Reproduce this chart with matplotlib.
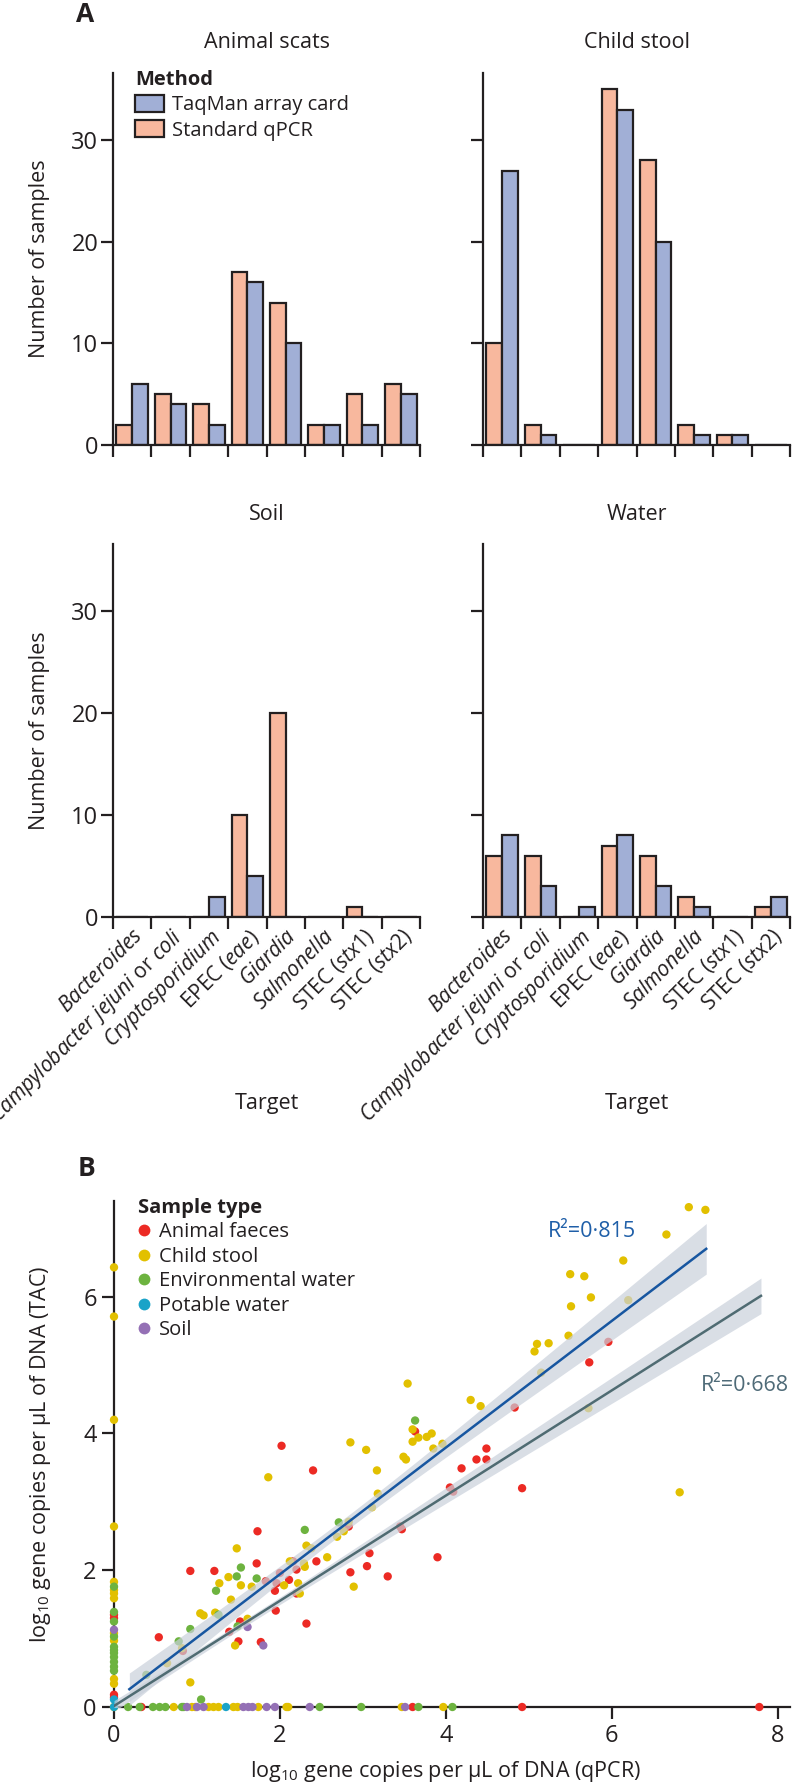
import numpy as np
import matplotlib
matplotlib.use('Agg')
from matplotlib import pyplot as plt
from matplotlib.patches import Patch
from matplotlib.lines import Line2D

plt.rcParams['font.family'] = ['Open Sans', 'DejaVu Sans']
plt.rcParams['mathtext.fontset'] = 'custom'
plt.rcParams['mathtext.rm'] = 'Open Sans'
plt.rcParams['mathtext.it'] = 'Open Sans:italic'
plt.rcParams['mathtext.bf'] = 'Open Sans:bold'

ink = '#231f20'
c_taq = '#a1afd6'
c_qpcr = '#f8b89e'

# ---- panel A: number of positive samples per target ----
targets = [r'$\mathit{Bacteroides}$',
           r'$\mathit{Campylobacter\ jejuni}$ or $\mathit{coli}$',
           r'$\mathit{Cryptosporidium}$',
           r'EPEC ($\mathit{eae}$)',
           r'$\mathit{Giardia}$',
           r'$\mathit{Salmonella}$',
           r'STEC ($\mathit{stx1}$)',
           r'STEC ($\mathit{stx2}$)']

scats_taqman = [6, 4, 2, 16, 10, 2, 2, 5]
scats_qpcr = [2, 5, 4, 17, 14, 2, 5, 6]
stool_taqman = [27, 1, 0, 33, 20, 1, 1, 0]
stool_qpcr = [10, 2, 0, 35, 28, 2, 1, 0]
soil_taqman = [0, 0, 2, 4, 0, 0, 0, 0]
soil_qpcr = [0, 0, 0, 10, 20, 0, 1, 0]
water_taqman = [8, 3, 1, 8, 3, 1, 0, 2]
water_qpcr = [6, 6, 0, 7, 6, 2, 0, 1]

# ---- panel B: log10 gene copies, qPCR (x) vs TAC (y) ----
animal_x = [2.02, 2.40, 1.73, 2.83, 3.45, 3.47, 2.44, 3.08, 3.05, 2.85, 3.30, 0.92, 1.21,
            1.72, 1.83, 1.96, 2.00, 2.11, 2.16, 2.20, 1.94, 2.20, 1.95, 1.52, 1.39, 2.32,
            0.54, 0.83, 1.50, 1.77, 5.96, 5.73, 4.83, 3.63, 4.49, 4.37, 4.49, 4.19, 4.05,
            4.09, 4.92, 3.90,
            0, 0, 0, 0, 0.33, 3.60, 4.92, 7.78]
animal_y = [3.82, 3.46, 2.57, 2.64, 2.64, 2.60, 2.13, 2.25, 2.06, 1.97, 1.91, 1.99, 1.99,
            2.10, 1.84, 1.81, 1.96, 1.86, 2.13, 2.01, 1.70, 1.66, 1.41, 1.25, 1.10, 1.22,
            1.02, 0.82, 0.96, 0.95, 5.34, 5.04, 4.38, 4.03, 3.78, 3.62, 3.62, 3.49, 3.21,
            3.15, 3.20, 2.19,
            1.35, 1.30, 0.18, 0.14, 0, 0, 0, 0]

stool_x = [1.86, 2.85, 3.04, 3.17, 3.18, 3.11, 2.83, 2.69, 2.77, 1.48, 2.32, 2.38, 2.57,
           2.89, 1.38, 1.27, 1.53, 1.66, 2.12, 2.29, 2.30, 2.05, 2.22, 2.24, 1.41, 1.04,
           1.08, 1.22, 1.61, 0.82, 1.46, 0.64, 0.92,
           6.93, 7.13, 6.66, 6.14, 5.50, 5.67, 5.75, 5.51, 6.20, 5.48, 5.10, 5.24, 5.07,
           5.15, 3.54, 4.30, 4.42, 5.72, 3.60, 3.67, 3.60, 3.77, 3.83, 3.85, 3.96, 3.49,
           3.52, 6.82,
           0, 0, 0, 0, 0, 0, 0, 0, 0, 0, 0, 0, 0,
           0.72, 0.94, 0.98, 1.14, 1.20, 1.26, 1.44, 1.49, 1.74, 2.08, 2.10, 3.47, 3.97]
stool_y = [3.36, 3.87, 3.76, 3.46, 3.12, 2.92, 2.71, 2.49, 2.57, 2.32, 2.36, 2.32, 2.19,
           1.76, 1.90, 1.81, 1.78, 1.76, 2.13, 2.10, 2.05, 1.78, 1.81, 1.66, 1.57, 1.37,
           1.34, 1.38, 1.29, 0.86, 0.90, 0.64, 0.36,
           7.31, 7.27, 6.91, 6.53, 6.33, 6.30, 5.99, 5.86, 5.95, 5.43, 5.31, 5.32, 5.20,
           4.89, 4.73, 4.49, 4.40, 4.37, 4.06, 3.94, 3.88, 3.95, 4.00, 3.78, 3.85, 3.66,
           3.62, 3.14,
           6.43, 5.71, 4.20, 2.64, 1.83, 1.71, 1.66, 1.59, 1.08, 0.97, 0.41, 0.34, 0,
           0, 0, 0, 0, 0, 0, 0, 0, 0, 0, 0, 0, 0]

envwater_x = [2.30, 2.71, 1.53, 1.48, 1.72, 1.23, 1.26, 0.92, 1.49, 0.78, 0.39, 1.05, 3.63,
              0, 0, 0, 0, 0, 0, 0, 0, 0, 0, 0,
              0.17, 0.31, 0.47, 0.55, 0.62, 0.82, 0.84, 2.48, 2.98, 3.67, 4.08]
envwater_y = [2.59, 2.70, 2.04, 1.91, 1.88, 1.70, 1.35, 1.14, 1.18, 0.96, 0.47, 0.11, 4.19,
              1.76, 1.39, 1.25, 1.03, 0.88, 0.83, 0.79, 0.73, 0.66, 0.59, 0.53,
              0, 0, 0, 0, 0, 0, 0, 0, 0, 0, 0]

potable_x = [0, 0, 1.35]
potable_y = [0.11, 0, 0]

soil_x = [1.61, 1.80, 0, 0.88, 1.00, 1.08, 1.56, 1.62, 1.67, 1.84, 1.94, 2.36, 3.51]
soil_y = [1.17, 0.90, 1.13, 0, 0, 0, 0, 0, 0, 0, 0, 0, 0]

# fitted regression lines (intercept, slope, x range) and CI shape
fit_pos = dict(icpt=0.089, slope=0.926, x0=0.185, x1=7.14, xm=2.8, se0=0.10, k=0.082)
fit_all = dict(icpt=0.015, slope=0.769, x0=0.0, x1=7.80, xm=1.5, se0=0.05, k=0.0405)
r2_pos = 'R²=0·815'
r2_all = 'R²=0·668'

W, H = 792, 1785
fig = plt.figure(figsize=(W / 100, H / 100), dpi=100)


def px_axes(l, t, r, b):
    return fig.add_axes([l / W, 1 - b / H, (r - l) / W, (b - t) / H])


def style(ax):
    for s in ['top', 'right']:
        ax.spines[s].set_visible(False)
    for s in ['left', 'bottom']:
        ax.spines[s].set_linewidth(1.6)
        ax.spines[s].set_color(ink)
    ax.tick_params(which='major', direction='out', length=8.5, width=1.6, color=ink,
                   labelcolor=ink, labelsize=17, pad=2)


panels = [(113, 73, 420, 445, 'Animal scats', scats_taqman, scats_qpcr),
          (483, 73, 790, 445, 'Child stool', stool_taqman, stool_qpcr),
          (113, 544, 420, 917, 'Soil', soil_taqman, soil_qpcr),
          (483, 544, 790, 917, 'Water', water_taqman, water_qpcr)]

edges = np.arange(len(targets) + 1)
centres = np.arange(len(targets)) + 0.5
bw = 0.41
axA = []
for i, (l, t, r, b, title, taq, qp) in enumerate(panels):
    ax = px_axes(l, t, r, b)
    style(ax)
    ax.bar(centres - bw / 2, qp, width=bw, color=c_qpcr, edgecolor=ink, linewidth=1.6)
    ax.bar(centres + bw / 2, taq, width=bw, color=c_taq, edgecolor=ink, linewidth=1.6)
    ax.set_xlim(0, len(targets))
    ax.set_ylim(0, 36.6)
    ax.set_yticks([0, 10, 20, 30])
    ax.set_xticks(edges)
    ax.set_xticklabels([])
    if i % 2 == 1:
        ax.set_yticklabels([])
    if i >= 2:
        ax.set_xticks(centres, minor=True)
        ax.set_xticklabels(targets, minor=True, rotation=45, ha='right',
                           rotation_mode='anchor', fontsize=15, color=ink)
        ax.tick_params(axis='x', which='minor', length=0, pad=6)
        fig.text((l + r) / 2 / W, 1 - 1103 / H, 'Target', fontsize=15.5, color=ink,
                 ha='center', va='center')
    fig.text((l + r) / 2 / W, 1 - (t - 30) / H, title, fontsize=15.5, color=ink,
             ha='center', va='center')
    if i % 2 == 0:
        fig.text(40 / W, 1 - (t + b) / 2 / H, 'Number of samples', fontsize=15.5,
                 color=ink, rotation=90, ha='center', va='center')
    axA.append(ax)

leg = axA[0].legend(handles=[Patch(facecolor=c_taq, edgecolor=ink, linewidth=1.6,
                                   label='TaqMan array card'),
                             Patch(facecolor=c_qpcr, edgecolor=ink, linewidth=1.6,
                                   label='Standard qPCR')],
                    title='Method', loc='upper left', bbox_to_anchor=(135 / W, 1 - 70 / H),
                    bbox_transform=fig.transFigure, frameon=False, fontsize=14.5,
                    title_fontproperties={'weight': 'bold', 'size': 14.5}, alignment='left',
                    handlelength=1.45, handleheight=0.9, handletextpad=0.4,
                    labelspacing=0.25, borderpad=0, borderaxespad=0, labelcolor=ink)
leg.get_title().set_color(ink)

fig.text(85 / W, 1 - 14 / H, 'A', fontsize=19, fontweight='bold', color=ink,
         ha='center', va='center')
fig.text(87 / W, 1 - 1169 / H, 'B', fontsize=19, fontweight='bold', color=ink,
         ha='center', va='center')

# ---- panel B ----
axB = px_axes(114, 1201, 790, 1707)
style(axB)
axB.tick_params(pad=4)
groups = [('Animal faeces', animal_x, animal_y, '#ec2a24'),
          ('Child stool', stool_x, stool_y, '#e2c000'),
          ('Environmental water', envwater_x, envwater_y, '#6db33f'),
          ('Potable water', potable_x, potable_y, '#1aa3c8'),
          ('Soil', soil_x, soil_y, '#9470b5')]
for name, gx, gy, col in groups:
    axB.scatter(gx, gy, s=36, color=col, edgecolors='none', clip_on=False, zorder=3)

for fit, col in [(fit_pos, '#1756a0'), (fit_all, '#4f6b72')]:
    xs = np.linspace(fit['x0'], fit['x1'], 100)
    ys = fit['icpt'] + fit['slope'] * xs
    hw = np.sqrt(fit['se0'] ** 2 + (fit['k'] * (xs - fit['xm'])) ** 2)
    axB.fill_between(xs, ys - hw, ys + hw, color='#c9d0db', alpha=0.7, lw=0, zorder=3.5)
    axB.plot(xs, ys, color=col, lw=1.8, zorder=4)

axB.text(5.23, 6.95, r2_pos, color='#1f5fa8', fontsize=15.5, ha='left', va='center')
axB.text(7.07, 4.70, r2_all, color='#4f6b78', fontsize=15.5, ha='left', va='center',
         clip_on=False)

axB.set_xlim(0, 8.15)
axB.set_ylim(0, 7.4)
axB.set_xticks([0, 2, 4, 6, 8])
axB.set_yticks([0, 2, 4, 6])
axB.set_xlabel('log$_{10}$ gene copies per µL of DNA (qPCR)', fontsize=15.5, color=ink)
axB.set_ylabel('log$_{10}$ gene copies per µL of DNA (TAC)', fontsize=15.5, color=ink)
axB.xaxis.label.set_va('center')
axB.yaxis.label.set_va('center')
axB.xaxis.set_label_coords(0.49, -0.128)
axB.yaxis.set_label_coords(-0.109, 0.5)

legB = axB.legend(handles=[Line2D([], [], marker='o', ls='', markersize=8.5, color=c,
                                  markeredgewidth=0, label=n) for n, _, _, c in groups],
                  title='Sample type', loc='upper left', bbox_to_anchor=(138 / W, 1 - 1198 / H),
                  bbox_transform=fig.transFigure, frameon=False, fontsize=14.5,
                  title_fontproperties={'weight': 'bold', 'size': 14.5}, alignment='left',
                  handlelength=0.6, handletextpad=0.45, labelspacing=0.22,
                  borderpad=0, borderaxespad=0, labelcolor=ink)
legB.get_title().set_color(ink)

fig.savefig('out.png', dpi=100)
